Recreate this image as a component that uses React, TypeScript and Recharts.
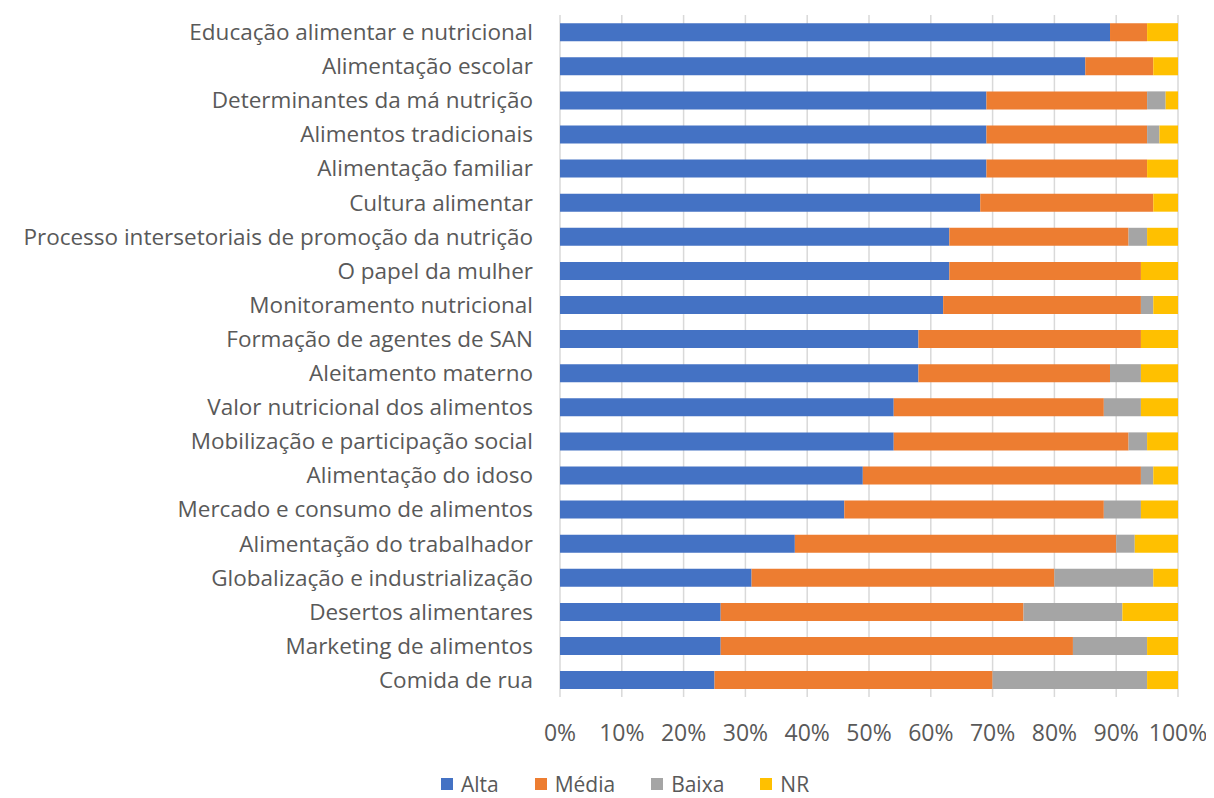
import React from "react";
import { BarChart, Bar, XAxis, YAxis, CartesianGrid, Legend } from "recharts";

const categories = [
  "Educação alimentar e nutricional",
  "Alimentação escolar",
  "Determinantes da má nutrição",
  "Alimentos tradicionais ",
  "Alimentação familiar",
  "Cultura alimentar",
  "Processo intersetoriais de promoção da nutrição",
  "O papel da mulher ",
  "Monitoramento nutricional ",
  "Formação de agentes de SAN",
  "Aleitamento materno",
  "Valor nutricional dos alimentos ",
  "Mobilização e participação social",
  "Alimentação do idoso",
  "Mercado e consumo de alimentos ",
  "Alimentação do trabalhador",
  "Globalização e industrialização",
  "Desertos alimentares ",
  "Marketing de alimentos ",
  "Comida de rua",
];

const alta = [89, 85, 69, 69, 69, 68, 63, 63, 62, 58, 58, 54, 54, 49, 46, 38, 31, 26, 26, 25];
const media = [6, 11, 26, 26, 26, 28, 29, 31, 32, 36, 31, 34, 38, 45, 42, 52, 49, 49, 57, 45];
const baixa = [0, 0, 3, 2, 0, 0, 3, 0, 2, 0, 5, 6, 3, 2, 6, 3, 16, 16, 12, 25];
const nr = [5, 4, 2, 3, 5, 4, 5, 6, 4, 6, 6, 6, 5, 4, 6, 7, 4, 9, 5, 5];

const xTicks = [0, 10, 20, 30, 40, 50, 60, 70, 80, 90, 100];

const seriesNames = ["Alta", "Média", "Baixa", "NR"];
const colors = ["#4472C4", "#ED7D31", "#A5A5A5", "#FFC000"];

const data = categories.map((c, i) => ({
  name: c,
  Alta: alta[i],
  "Média": media[i],
  Baixa: baixa[i],
  NR: nr[i],
}));

const FONT = "'Open Sans', sans-serif";

const renderLegend = () => (
  <div
    style={{
      display: "flex",
      justifyContent: "center",
      fontFamily: FONT,
      fontSize: 21,
      lineHeight: "28px",
      height: 28,
      color: "#595959",
      paddingLeft: 100,
    }}
  >
    {seriesNames.map((n, i) => (
      <div key={n} style={{ display: "flex", alignItems: "center", marginRight: 36 }}>
        <span
          style={{
            width: 12,
            height: 12,
            background: colors[i],
            display: "inline-block",
            marginRight: 8,
          }}
        />
        <span>{n}</span>
      </div>
    ))}
  </div>
);

export default function App() {
  return (
    <div style={{ width: 1206, height: 790, background: "#fff" }}>
      <BarChart
        width={1206}
        height={790}
        data={data}
        layout="vertical"
        margin={{ top: 7, right: 36, bottom: 0, left: 0 }}
        barCategoryGap="24%"
      >
        <CartesianGrid horizontal={false} vertical={true} stroke="#D9D9D9" strokeWidth={1.5} />
        <XAxis
          type="number"
          domain={[0, 100]}
          ticks={xTicks}
          tickFormatter={(v) => `${v}%`}
          axisLine={false}
          tickLine={false}
          tickSize={0}
          tickMargin={28}
          height={73}
          interval={0}
          tick={{ fill: "#595959", fontSize: 23, fontFamily: FONT }}
        />
        <YAxis
          type="category"
          dataKey="name"
          width={552}
          axisLine={false}
          tickLine={false}
          tickSize={0}
          tickMargin={27}
          interval={0}
          tick={{ fill: "#595959", fontSize: 22.5, fontFamily: FONT }}
        />
        <Legend verticalAlign="bottom" height={28} content={renderLegend} />
        {seriesNames.map((n, i) => (
          <Bar key={n} dataKey={n} stackId="a" fill={colors[i]} isAnimationActive={false} />
        ))}
      </BarChart>
    </div>
  );
}
